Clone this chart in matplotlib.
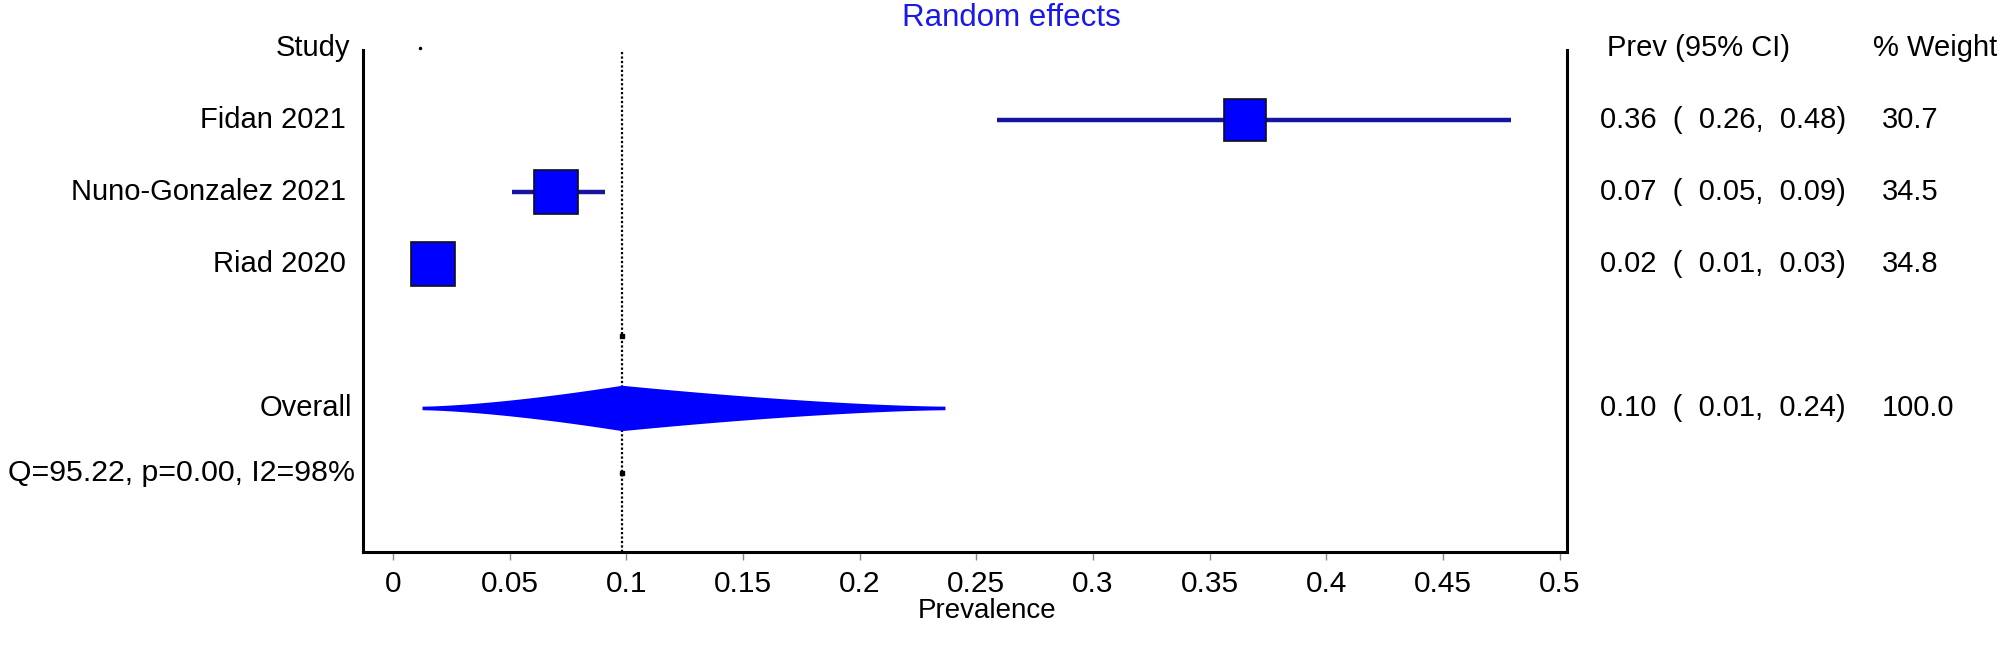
import matplotlib
matplotlib.use('Agg')
import matplotlib.pyplot as plt
import matplotlib.transforms as mtransforms
import numpy as np

plt.rcParams['font.family'] = ['Liberation Sans', 'DejaVu Sans']

# study level data
studies = ['Fidan 2021', 'Nuno-Gonzalez 2021', 'Riad 2020']
prev = [0.365, 0.070, 0.017]
ci_lo = [0.259, 0.051, 0.011]
ci_hi = [0.479, 0.091, 0.024]
prev_txt = [0.36, 0.07, 0.02]
lo_txt = [0.26, 0.05, 0.01]
hi_txt = [0.48, 0.09, 0.03]
weights = [30.7, 34.5, 34.8]

# pooled estimate
pooled = 0.098
pooled_lo = 0.0124
pooled_hi = 0.2365
pooled_txt = [0.10, 0.01, 0.24]
pooled_weight = 100.0
het_txt = 'Q=95.22, p=0.00, I2=98%'

xticks = [0, 0.05, 0.1, 0.15, 0.2, 0.25, 0.3, 0.35, 0.4, 0.45, 0.5]
xtick_labels = ['0', '0.05', '0.1', '0.15', '0.2', '0.25', '0.3', '0.35', '0.4', '0.45', '0.5']

W, H = 2008, 646
fig = plt.figure(figsize=(W / 100, H / 100), dpi=100)
ax = fig.add_axes([363 / W, 1 - 552 / H, (1567 - 363) / W, (552 - 50) / H])
ax.set_xlim(-0.0129, 0.5031)
ax.set_ylim(7, 0.03)

fs = 21
blue = '#0000ff'
navy = '#1414a0'

rows = [1, 2, 3]
row_blank = 4
row_overall = 5
row_het = 5.9

# pooled line
ax.axvline(pooled, color='black', ls=(0, (1, 1)), lw=1.6, zorder=1)
ax.plot([pooled, pooled], [row_blank, row_het], ls='none', marker='s', ms=2.5,
        color='black', zorder=2)
ax.plot([0.0115], [0.0], ls='none', marker='.', ms=3, color='black', clip_on=False)

# studies
for y, p, lo, hi, w in zip(rows, prev, ci_lo, ci_hi, weights):
    ax.plot([lo, hi], [y, y], color=navy, lw=3.2, solid_capstyle='butt', zorder=3)
    ax.plot([p], [y], marker='s', ms=31.5 * np.sqrt(w / 34.8), color=blue,
            mec='#101010', mew=1.2, zorder=4)

# pooled diamond
xs = np.linspace(pooled_lo, pooled_hi, 300)
t = np.where(xs < pooled, (pooled - xs) / (pooled - pooled_lo),
             (xs - pooled) / (pooled_hi - pooled))
hh = 0.29 * (1 - t) ** 1.5 + 0.025
ax.fill_between(xs, row_overall - hh, row_overall + hh, color=blue, lw=0, zorder=3)

# axes styling
for s in ['left', 'right', 'bottom']:
    ax.spines[s].set_linewidth(2.2)
    ax.spines[s].set_color('black')
ax.spines['top'].set_visible(False)
ax.set_yticks([])
ax.set_xticks(xticks)
ax.set_xticklabels(xtick_labels)
ax.tick_params(axis='x', length=6, width=1, color='#888888', pad=7, labelsize=21.5)

tr = mtransforms.blended_transform_factory(fig.transFigure, ax.transData)

# left labels
ax.text(350 / W, 0, 'Study', transform=tr, ha='right', va='center', fontsize=fs, clip_on=False)
for y, name in zip(rows, studies):
    ax.text(346 / W, y, name, transform=tr, ha='right', va='center', fontsize=fs, clip_on=False)
ax.text(352 / W, row_overall, 'Overall', transform=tr, ha='right', va='center', fontsize=fs,
        clip_on=False)
ax.text(8 / W, row_het, het_txt, transform=tr, ha='left', va='center', fontsize=21.8,
        clip_on=False)

# right columns
ax.text(1607 / W, 0, 'Prev (95% CI)', transform=tr, ha='left', va='center', fontsize=fs,
        clip_on=False)
ax.text(1873 / W, 0, '% Weight', transform=tr, ha='left', va='center', fontsize=fs,
        clip_on=False)
for y, p, lo, hi, w in zip(rows, prev_txt, lo_txt, hi_txt, weights):
    ax.text(1600 / W, y, f'{p:.2f}  (  {lo:.2f},  {hi:.2f})', transform=tr, ha='left',
            va='center', fontsize=fs, clip_on=False)
    ax.text(1882 / W, y, f'{w:.1f}', transform=tr, ha='left', va='center', fontsize=fs,
            clip_on=False)
p, lo, hi = pooled_txt
ax.text(1600 / W, row_overall, f'{p:.2f}  (  {lo:.2f},  {hi:.2f})', transform=tr, ha='left',
        va='center', fontsize=fs, clip_on=False)
ax.text(1882 / W, row_overall, f'{pooled_weight:.1f}', transform=tr, ha='left', va='center',
        fontsize=fs, clip_on=False)

fig.text(1011 / W, 1 - 18 / H, 'Random effects', color='#1a1ae6', ha='center', va='center',
         fontsize=22.5)
fig.text(987 / W, 1 - 611 / H, 'Prevalence', ha='center', va='center', fontsize=20)

fig.savefig('out.png', dpi=100, facecolor='white')
